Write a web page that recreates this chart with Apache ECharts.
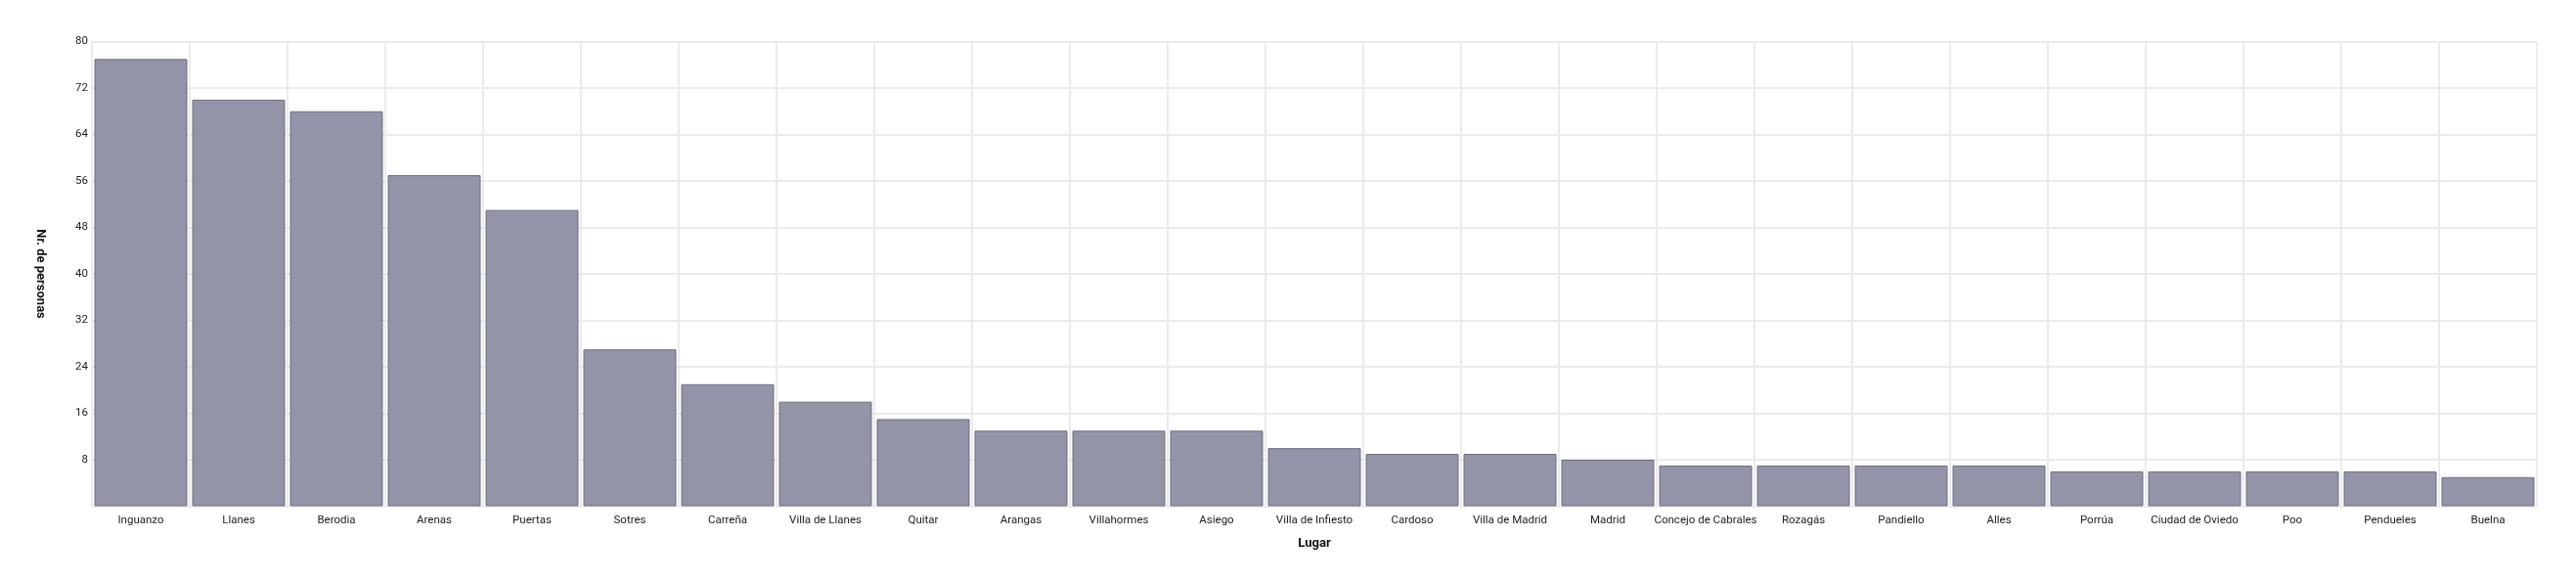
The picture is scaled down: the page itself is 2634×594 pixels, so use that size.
<!DOCTYPE html>
<html>
<head>
<meta charset="utf-8">
<script src="https://cdn.jsdelivr.net/npm/echarts@6/dist/echarts.min.js"></script>
<style>
html,body{margin:0;padding:0;background:#fff;}
#chart{width:2634px;height:594px;}
</style>
</head>
<body>
<div id="chart"></div>
<script>
const categories = ["Inguanzo","Llanes","Berodia","Arenas","Puertas","Sotres","Carreña","Villa de Llanes","Quitar","Arangas","Villahormes","Asiego","Villa de Infiesto","Cardoso","Villa de Madrid","Madrid","Concejo de Cabrales","Rozagás","Pandiello","Alles","Porrúa","Ciudad de Oviedo","Poo","Pendueles","Buelna"];
const values = [77,70,68,57,51,27,21,18,15,13,13,13,10,9,9,8,7,7,7,7,6,6,6,6,5];
const yTicks = [0,8,16,24,32,40,48,56,64,72,80];

const chart = echarts.init(document.getElementById('chart'), null, {renderer:'canvas'});
const font = 'Roboto, "Noto Sans", sans-serif';
chart.setOption({
  animation:false,
  backgroundColor:'#ffffff',
  grid:{left:94, right:40, top:42.5, bottom:76.5, containLabel:false},
  xAxis:{
    type:'category',
    data:categories,
    boundaryGap:true,
    name:'Lugar',
    nameLocation:'middle',
    nameGap:32,
    nameTextStyle:{fontFamily:font, fontSize:13, fontWeight:'bold', color:'#111'},
    axisLine:{show:true, lineStyle:{color:'#ebebeb', width:1}},
    axisTick:{show:false},
    axisLabel:{interval:0, fontFamily:font, fontSize:11.5, color:'#222', margin:9},
    splitLine:{show:true, interval:0, lineStyle:{color:'#ebebeb', width:2}}
  },
  yAxis:{
    type:'value',
    min:yTicks[0],
    max:yTicks[yTicks.length-1],
    interval:8,
    name:'Nr. de personas',
    nameLocation:'middle',
    nameRotate:-90,
    nameGap:46,
    nameTextStyle:{fontFamily:font, fontSize:13, fontWeight:'bold', color:'#111'},
    axisLine:{show:false},
    axisTick:{show:false},
    axisLabel:{fontFamily:font, fontSize:11.5, color:'#222', margin:4,
      formatter:function(v){return v===0?'':String(v);}},
    splitLine:{show:true, lineStyle:{color:'#ebebeb', width:2}}
  },
  series:[{
    type:'bar',
    data:values,
    barCategoryGap:'5%',
    itemStyle:{color:'#9494a8', borderColor:'#6e6e82', borderWidth:1}
  }]
});
</script>
</body>
</html>
